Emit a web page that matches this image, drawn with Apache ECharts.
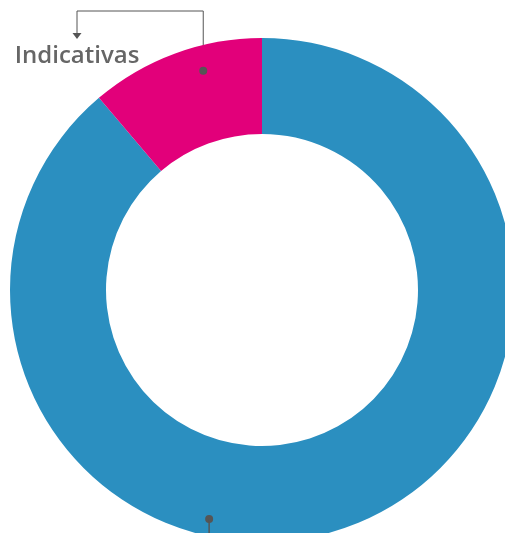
<!DOCTYPE html>
<html><head><meta charset="utf-8">
<script src="https://cdn.jsdelivr.net/npm/echarts@6/dist/echarts.min.js"></script>
<style>html,body{margin:0;padding:0;background:#fff}#c{width:505px;height:533px}</style>
</head><body><div id="c"></div>
<script>
const categories = ['Otras', 'Indicativas'];
const values = [88.8, 11.2];
const colors = ['#2b8fc0', '#e2007a'];
const labelTexts = ['', 'Indicativas'];

const chart = echarts.init(document.getElementById('c'));
const cx = 262, cy = 290, rIn = 156, rOut = 252;
function polar(angDegCW, r) { const a = angDegCW * Math.PI / 180; return [cx + r * Math.sin(a), cy - r * Math.cos(a)]; }
const pinkDot = polar(-15, 227);
const blueDot = polar(193, 235);
const lineColor = '#555';

chart.setOption({
  animation: false,
  series: [{
    type: 'pie',
    center: [cx, cy],
    radius: [rIn, rOut],
    startAngle: 90,
    clockwise: true,
    silent: true,
    data: categories.map((n, i) => ({
      name: n, value: values[i],
      itemStyle: { color: colors[i] },
      label: { show: !!labelTexts[i] }
    })),
    label: {
      formatter: p => labelTexts[p.dataIndex],
      fontFamily: 'Open Sans', fontWeight: 600, fontSize: 24, color: '#666'
    },
    labelLine: { show: true, lineStyle: { color: lineColor, width: 1 } },
    labelLayout: p => p.dataIndex === 1 ? {
      x: 77, y: 56, align: 'center', verticalAlign: 'middle',
      labelLinePoints: [pinkDot, [pinkDot[0], 11], [77, 11], [77, 35]]
    } : {}
  }],
  graphic: [
    { type: 'circle', shape: { cx: pinkDot[0], cy: pinkDot[1], r: 4 }, style: { fill: lineColor }, z: 100 },
    { type: 'polygon', shape: { points: [[72.5, 33], [81.5, 33], [77, 39]] }, style: { fill: lineColor }, z: 100 },
    { type: 'circle', shape: { cx: blueDot[0], cy: blueDot[1], r: 4 }, style: { fill: lineColor }, z: 100 },
    { type: 'line', shape: { x1: blueDot[0], y1: blueDot[1], x2: blueDot[0], y2: 560 }, style: { stroke: lineColor, lineWidth: 1.5 }, z: 100 }
  ]
});
</script></body></html>
